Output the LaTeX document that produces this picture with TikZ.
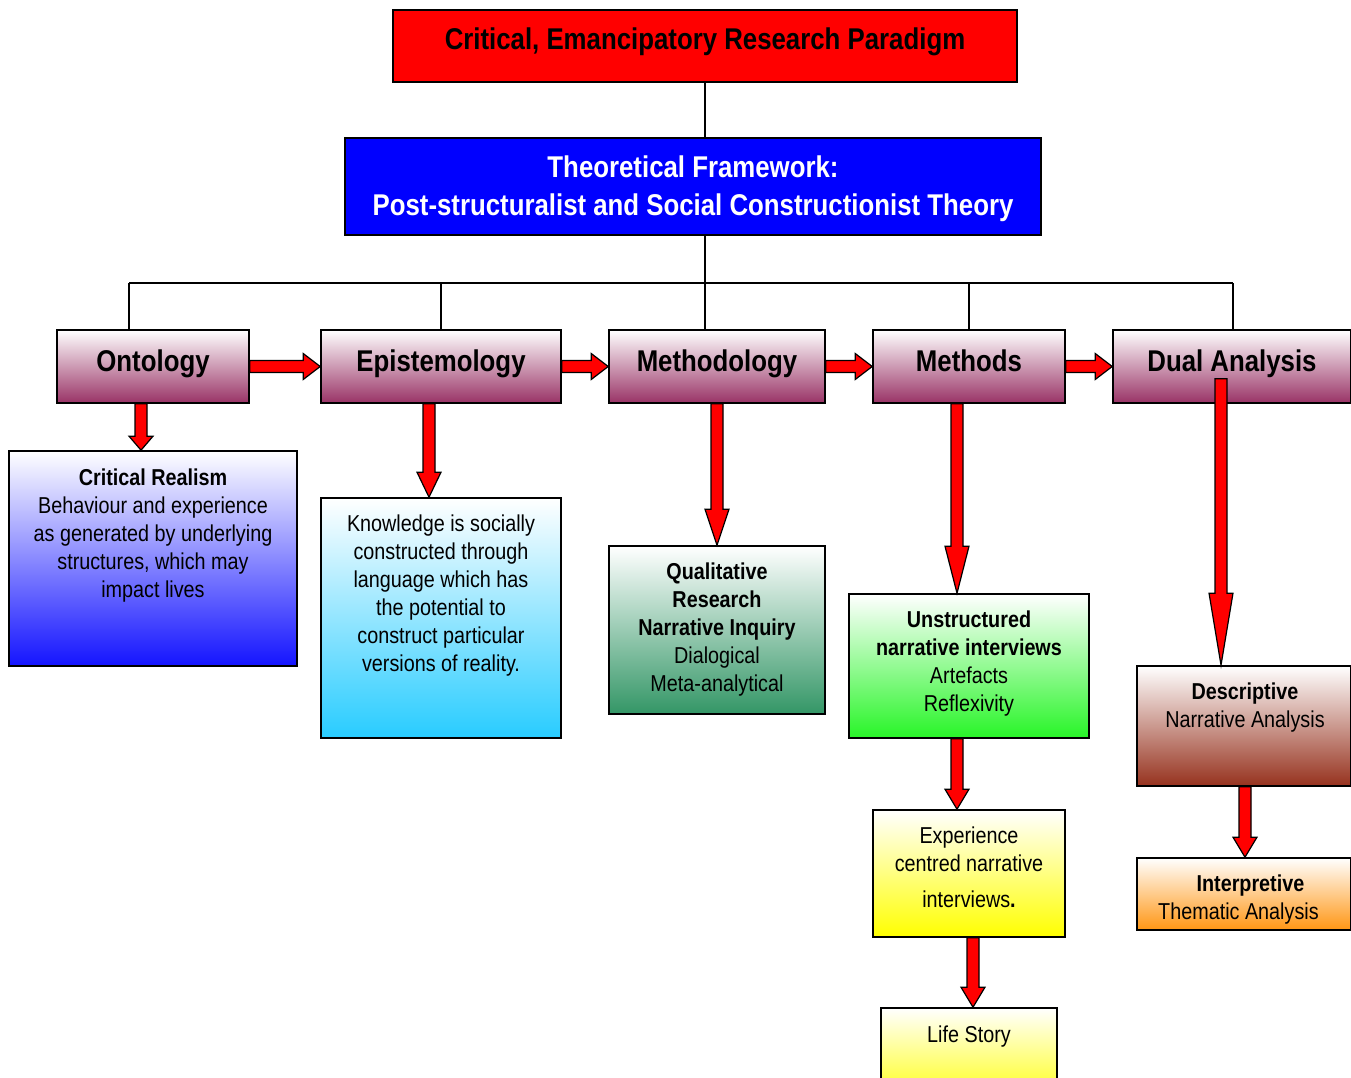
\documentclass[tikz,border=0pt]{standalone}
\usepackage{fontspec}
\setmainfont{Liberation Sans}[FakeStretch=0.86]
\usetikzlibrary{calc}

\definecolor{parared}{RGB}{255,0,0}
\definecolor{theoblue}{RGB}{0,0,255}
\definecolor{mauve}{RGB}{153,51,102}
\definecolor{deepblue}{RGB}{20,20,255}
\definecolor{skyblue}{RGB}{40,204,255}
\definecolor{seagreen}{RGB}{51,150,102}
\definecolor{brightgreen}{RGB}{40,245,40}
\definecolor{lemon}{RGB}{255,255,0}
\definecolor{rust}{RGB}{150,50,30}
\definecolor{amber}{RGB}{255,150,20}

\tikzset{
  box/.style={draw=black, line width=1.6pt, inner sep=0pt, align=center},
  hdr/.style={box, top color=white, bottom color=mauve, minimum height=73pt,
    text height=16pt, text depth=5.4pt,
    font=\fontsize{30}{36}\selectfont\bfseries},
  txt/.style={inner sep=0pt, align=center, anchor=north,
    font=\fontsize{23}{28}\selectfont},
  link/.style={draw=black, line width=1.2pt},
  blockarrow/.style={draw=black, fill=red, line width=1.2pt, line join=miter},
}

% horizontal block arrow from the east side of #1 to the west side of #2
\newcommand\harrow[2]{%
  \draw[blockarrow] let \p1=(#1.east), \p2=(#2.west) in
    (\x1,\y1+6pt) -- (\x2-17pt,\y1+6pt) -- (\x2-17pt,\y1+13pt) -- (\x2,\y1)
    -- (\x2-17pt,\y1-13pt) -- (\x2-17pt,\y1-6pt) -- (\x1,\y1-6pt) -- cycle;}

% vertical block arrow: #1 source, #2 target, #3 x position,
% #4 head length, #5 how far the tail reaches into the source
\newcommand\varrow[5]{%
  \draw[blockarrow] let \p1=(#1.south), \p2=(#2.north), \p3=(#3,0) in
    (\x3-6pt,\y1+#5pt) -- (\x3-6pt,\y2+#4pt) -- (\x3-12pt,\y2+#4pt) -- (\x3,\y2)
    -- (\x3+12pt,\y2+#4pt) -- (\x3+6pt,\y2+#4pt) -- (\x3+6pt,\y1+#5pt) -- cycle;}

\begin{document}
\begin{tikzpicture}[x=1pt, y=-1pt]
\useasboundingbox (0,0) rectangle (1351,1078);
\clip (0,0) rectangle (1351,1078);
\fill[white] (0,0) rectangle (1351,1078);

% paradigm and theory
\node[box, fill=parared, minimum width=624pt, minimum height=72pt,
  text height=12pt, text depth=4.4pt,
  font=\fontsize{30}{36}\selectfont\bfseries] (title) at (705,46)
  {Critical, Emancipatory Research Paradigm};
\node[box, fill=theoblue, minimum width=696pt, minimum height=97pt,
  text height=64pt, text depth=6pt,
  text=white, font=\fontsize{30}{38}\selectfont\bfseries] (theory) at (693,186.5)
  {Theoretical Framework:\\Post-structuralist and Social Constructionist Theory};

% header row
\node[hdr, minimum width=192pt] (ont)  at (153,366.5) {Ontology};
\node[hdr, minimum width=240pt] (epi)  at (441,366.5) {Epistemology};
\node[hdr, minimum width=216pt] (meth) at (717,366.5) {Methodology};
\node[hdr, minimum width=192pt] (mtd)  at (969,366.5) {Methods};
\node[hdr, minimum width=238pt] (dual) at (1232,366.5) {Dual Analysis};

% detail boxes
\node[box, top color=white, bottom color=deepblue, minimum width=288pt, minimum height=215pt] (cr) at (153,558.5) {};
\node[box, top color=white, bottom color=skyblue, minimum width=240pt, minimum height=240pt] (know) at (441,618) {};
\node[box, top color=white, bottom color=seagreen, minimum width=216pt, minimum height=168pt] (qual) at (717,630) {};
\node[box, top color=white, bottom color=brightgreen, minimum width=240pt, minimum height=144pt] (unst) at (969,666) {};
\node[box, top color=white, bottom color=lemon, minimum width=192pt, minimum height=127pt] (exp) at (969,873.5) {};
\node[box, top color=white, bottom color=lemon, minimum width=176pt, minimum height=100pt] (life) at (969,1058) {};
\node[box, top color=white, bottom color=rust, minimum width=214pt, minimum height=120pt] (desc) at (1244,726) {};
\node[box, top color=white, bottom color=amber, minimum width=214pt, minimum height=72pt] (interp) at (1244,894) {};

% texts of the detail boxes
\node[txt] (cr-t) at (153,469) {\textbf{Critical Realism}\\Behaviour and experience\\as generated by underlying\\structures, which may\\impact lives};
\node[txt] (know-t) at (441,515) {Knowledge is socially\\constructed through\\language which has\\the potential to\\construct particular\\versions of reality.};
\node[txt] (qual-t) at (717,563) {\textbf{Qualitative}\\\textbf{Research}\\\textbf{Narrative Inquiry}\\Dialogical\\Meta-analytical};
\node[txt] (unst-t) at (969,611) {\textbf{Unstructured}\\\textbf{narrative interviews}\\Artefacts\\Reflexivity};
\node[txt] (exp-t) at (969,827) {Experience\\centred narrative\\[8pt]interviews\textbf{.}};
\node[txt] (life-t) at (969,1026) {Life Story};
\node[txt] (desc-t) at (1245,683) {\textbf{Descriptive}\\Narrative Analysis};
\node[txt, anchor=north west] (interp-t) at (1158,875) {\hspace*{24pt}\textbf{Interpretive}\\Thematic Analysis};

% thin connectors
\coordinate (busL) at (129,283);
\coordinate (busR) at (1233,283);
\draw[link] (title.south) -- (title.south |- theory.north);
\draw[link] (title.south |- theory.south) -- (title.south |- busL);
\draw[link] (busL) -- (busR);
\draw[link] (busL) -- (busL |- ont.north);
\draw[link] (epi.north) -- (epi.north |- busL);
\draw[link] (title.south |- busL) -- (title.south |- meth.north);
\draw[link] (mtd.north) -- (mtd.north |- busL);
\draw[link] (busR) -- (busR |- dual.north);

% block arrows along the header row
\harrow{ont}{epi}
\harrow{epi}{meth}
\harrow{meth}{mtd}
\harrow{mtd}{dual}

% block arrows downwards
\varrow{ont}{cr}{141}{14}{0}
\varrow{epi}{know}{429}{25}{0}
\varrow{meth}{qual}{717}{36}{0}
\varrow{mtd}{unst}{957}{47}{0}
\varrow{dual}{desc}{1221}{72}{25}
\varrow{unst}{exp}{957}{20}{0}
\varrow{exp}{life}{973}{20}{0}
\varrow{desc}{interp}{1245}{20}{0}
\end{tikzpicture}
\end{document}
